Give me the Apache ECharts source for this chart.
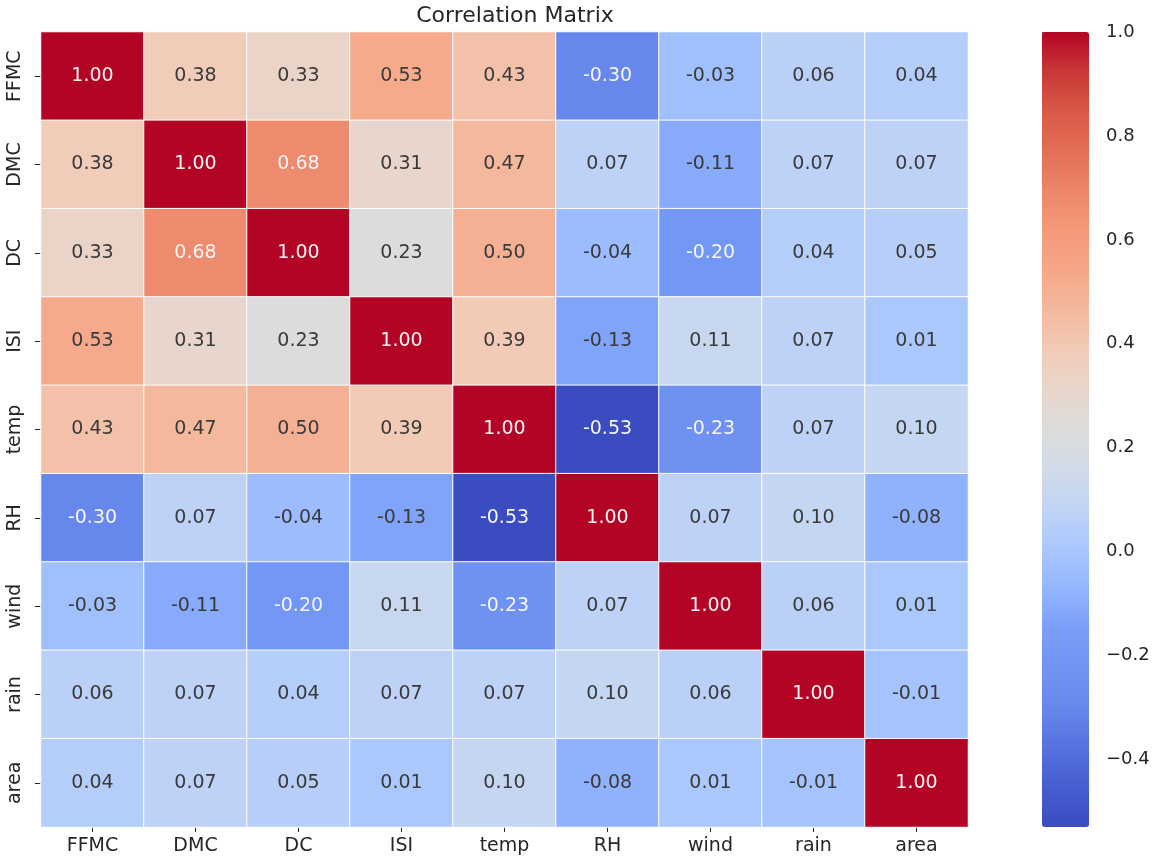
<!DOCTYPE html>
<html>
<head>
<meta charset="utf-8">
<title>Correlation Matrix</title>
<script src="https://cdn.jsdelivr.net/npm/echarts@6/dist/echarts.min.js"></script>
<style>
  html, body { margin: 0; padding: 0; background: #fff; }
  #chart { width: 1155px; height: 859px; }
</style>
</head>
<body>
<div id="chart"></div>
<script>
// 变量名
const labels = ['FFMC', 'DMC', 'DC', 'ISI', 'temp', 'RH', 'wind', 'rain', 'area'];

// 相关系数（每行一个变量）
const rowFFMC = [1.00, 0.38, 0.33, 0.53, 0.43, -0.30, -0.03, 0.06, 0.04];
const rowDMC  = [0.38, 1.00, 0.68, 0.31, 0.47, 0.07, -0.11, 0.07, 0.07];
const rowDC   = [0.33, 0.68, 1.00, 0.23, 0.50, -0.04, -0.20, 0.04, 0.05];
const rowISI  = [0.53, 0.31, 0.23, 1.00, 0.39, -0.13, 0.11, 0.07, 0.01];
const rowTemp = [0.43, 0.47, 0.50, 0.39, 1.00, -0.53, -0.23, 0.07, 0.10];
const rowRH   = [-0.30, 0.07, -0.04, -0.13, -0.53, 1.00, 0.07, 0.10, -0.08];
const rowWind = [-0.03, -0.11, -0.20, 0.11, -0.23, 0.07, 1.00, 0.06, 0.01];
const rowRain = [0.06, 0.07, 0.04, 0.07, 0.07, 0.10, 0.06, 1.00, -0.01];
const rowArea = [0.04, 0.07, 0.05, 0.01, 0.10, -0.08, 0.01, -0.01, 1.00];
const matrix = [rowFFMC, rowDMC, rowDC, rowISI, rowTemp, rowRH, rowWind, rowRain, rowArea];

// 色条刻度
const colorbarTicks = [-0.4, -0.2, 0.0, 0.2, 0.4, 0.6, 0.8, 1.0];
const vMin = -0.53;
const vMax = 1.0;

// coolwarm 色带
const coolwarm = [
  '#3b4cc0', '#465ecf', '#5572df', '#6688ec', '#7093f3', '#7b9ff9',
  '#93b5fe', '#aac7fd', '#c0d4f5', '#d2dbe8', '#dddcdc', '#e8d6cc',
  '#f2cbb7', '#f4b99e', '#f6a688', '#f49a7b', '#ed866a', '#e36f58',
  '#d95847', '#c83836', '#b40426'
];

const font = 'DejaVu Sans';
const textColor = '#262626';

let heatData = [];
matrix.forEach(function (row, r) {
  row.forEach(function (v, c) {
    const light = v >= 0.6 || v <= -0.18;
    heatData.push({
      value: [c, r, v],
      label: { color: light ? '#f4f4f4' : '#3a3a3a' }
    });
  });
});

const chart = echarts.init(document.getElementById('chart'));
const option = {
  animation: false,
  backgroundColor: '#fff',
  title: {
    text: 'Correlation Matrix',
    left: 510,
    textAlign: 'center',
    top: 0,
    textStyle: { fontFamily: font, fontSize: 22, fontWeight: 'normal', color: textColor }
  },
  grid: [
    { left: 41, top: 32, width: 927, height: 795 },
    { left: 1042, top: 32, width: 47, height: 795 }
  ],
  xAxis: [
    {
      type: 'category',
      data: labels,
      gridIndex: 0,
      axisLine: { show: false },
      axisTick: { show: true, alignWithLabel: true, length: 5, lineStyle: { color: textColor } },
      axisLabel: { fontFamily: font, fontSize: 19, color: textColor, margin: 10 },
      splitLine: { show: false }
    },
    { type: 'value', gridIndex: 1, min: 0, max: 1, show: false }
  ],
  yAxis: [
    {
      type: 'category',
      data: labels,
      inverse: true,
      gridIndex: 0,
      axisLine: { show: false },
      axisTick: { show: true, alignWithLabel: true, length: 6, lineStyle: { color: textColor } },
      axisLabel: { fontFamily: font, fontSize: 19, color: textColor, rotate: 90, margin: 16 },
      splitLine: { show: false }
    },
    {
      type: 'value',
      gridIndex: 1,
      position: 'right',
      min: vMin,
      max: vMax,
      axisLine: { show: false },
      splitLine: { show: false },
      axisTick: { show: true, length: 6, customValues: colorbarTicks, lineStyle: { color: textColor } },
      axisLabel: {
        fontFamily: font, fontSize: 18, color: textColor, margin: 17,
        customValues: colorbarTicks,
        formatter: function (v) { return (v < -1e-9 ? '\u2212' : '') + Math.abs(v).toFixed(1); }
      }
    }
  ],
  visualMap: {
    type: 'continuous',
    seriesIndex: 0,
    min: vMin,
    max: vMax,
    calculable: false,
    hoverLink: false,
    orient: 'vertical',
    left: 1042,
    top: 32,
    padding: 0,
    itemWidth: 47,
    itemHeight: 795,
    text: null,
    showLabel: false,
    inRange: { color: coolwarm }
  },
  series: [
    {
      type: 'heatmap',
      xAxisIndex: 0,
      yAxisIndex: 0,
      data: heatData,
      itemStyle: { borderColor: '#ffffff', borderWidth: 1 },
      label: {
        show: true,
        fontFamily: font,
        fontSize: 19,
        formatter: function (p) { return p.value[2].toFixed(2); }
      }
    },
    { type: 'line', xAxisIndex: 1, yAxisIndex: 1, data: [] }
  ]
};
chart.setOption(option);
</script>
</body>
</html>
